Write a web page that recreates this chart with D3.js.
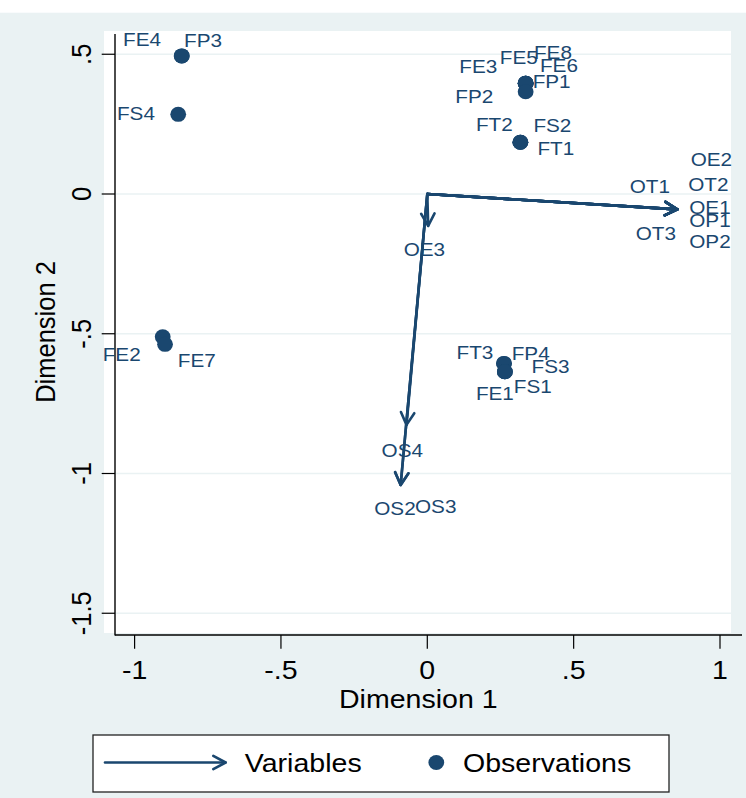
<!DOCTYPE html>
<html>
<head>
<meta charset="utf-8">
<script src="https://cdn.jsdelivr.net/npm/d3@7/dist/d3.min.js"></script>
<style>
  html, body { margin: 0; padding: 0; background: #ffffff; }
  svg { display: block; }
</style>
</head>
<body>
<script>
// ---------------- DATA ----------------
const obsNames = ['FE4','FP3','FS4','FE2','FE7','FE3','FE5','FE8','FE6','FP1','FP2','FT2','FS2','FT1','FT3','FP4','FS3','FE1','FS1'];
const obsDim1  = [-0.839,-0.839,-0.851,-0.904,-0.896, 0.336, 0.336, 0.336, 0.336, 0.336, 0.336, 0.318, 0.318, 0.318, 0.262, 0.262, 0.265, 0.265, 0.265];
const obsDim2  = [ 0.494, 0.494, 0.285,-0.511,-0.538, 0.396, 0.396, 0.396, 0.396, 0.396, 0.366, 0.185, 0.185, 0.185,-0.606,-0.606,-0.636,-0.636,-0.636];

const varNames = ['OT1','OT2','OE2','OE1','OP1','OT3','OP2','OE3','OS4','OS2','OS3'];
const varDim1  = [ 0.854, 0.854, 0.854, 0.854, 0.854, 0.854, 0.854, 0.003,-0.071,-0.091,-0.091];
const varDim2  = [-0.055,-0.055,-0.055,-0.055,-0.055,-0.055,-0.055,-0.114,-0.826,-1.041,-1.041];

const xTicks = [-1, -0.5, 0, 0.5, 1];
const xTickLabels = ['-1', '-.5', '0', '.5', '1'];
const yTicks = [0.5, 0, -0.5, -1, -1.5];
const yTickLabels = ['.5', '0', '-.5', '-1', '-1.5'];
const xTitle = 'Dimension 1';
const yTitle = 'Dimension 2';
const legendLabels = ['Variables', 'Observations'];

// ---------------- LAYOUT (label placement relative to its point, px) ----------------
const labelPlace = {
  FE4: ['end', -20.7, -10.3], FP3: ['start', 2.3, -9.3], FS4: ['end', -23.3, 5.7],
  FE2: ['end', -22, 24], FE7: ['start', 12.7, 23],
  FE3: ['end', -28.4, -10], FE5: ['middle', -6.9, -19], FE8: ['start', 8.3, -24],
  FE6: ['start', 14.3, -11], FP1: ['start', 7, 5], FP2: ['end', -32.4, 11],
  FT2: ['end', -7.6, -11.6], FS2: ['start', 13, -10.6], FT1: ['start', 17, 12.7],
  FT3: ['end', -10.7, -4], FP4: ['start', 7.7, -3.3], FS3: ['start', 26.7, 1.6],
  FE1: ['end', 9, 28.3], FS1: ['start', 9, 21],
  OE2: ['start', 13.4, -43.5], OT1: ['end', -7.3, -16.8], OT2: ['start', 11, -18.8],
  OE1: ['start', 12, 4.5], OP1: ['start', 12, 17.8], OT3: ['end', -1.3, 30.5],
  OP2: ['start', 12, 38.8], OE3: ['middle', -3.8, 30], OS4: ['middle', -4.2, 32.3],
  OS2: ['middle', -5.7, 30], OS3: ['start', 14.3, 27.7]
};

// ---------------- STYLE ----------------
const W = 746, H = 798;
const SX = 1.12;                 // horizontal stretch of the reference glyphs
const BG = '#eaf2f3';
const NAVY = '#1a476f';
const FONT = '"Liberation Sans", Arial, Helvetica, sans-serif';

const svg = d3.select('body').append('svg').attr('width', W).attr('height', H);

function txt(g, x, y, str, size, anchor, color, rotate) {
  return g.append('text')
    .attr('transform', `translate(${x},${y}) scale(${SX},1)` + (rotate ? ' rotate(-90)' : ''))
    .attr('text-anchor', anchor)
    .attr('font-family', FONT)
    .attr('font-size', size)
    .attr('fill', color)
    .text(str);
}

// backgrounds
svg.append('rect').attr('x', 0).attr('y', 0).attr('width', W).attr('height', H).attr('fill', BG);
svg.append('rect').attr('x', 0).attr('y', 0).attr('width', W).attr('height', 12.7).attr('fill', '#ffffff');
svg.append('rect').attr('x', 104).attr('y', 31).attr('width', 627).attr('height', 602).attr('fill', '#ffffff');

// scales
const x = d3.scaleLinear().domain([-1, 1]).range([134.6, 720.0]);
const y = d3.scaleLinear().domain([-1.5, 0.5]).range([613.25, 54.25]);

// gridlines
svg.append('g').selectAll('line').data(yTicks).join('line')
  .attr('x1', 116).attr('x2', 731)
  .attr('y1', d => y(d)).attr('y2', d => y(d))
  .attr('stroke', BG).attr('stroke-width', 1.6);

// axes lines
const axisG = svg.append('g');
axisG.append('line').attr('x1', 115).attr('x2', 115).attr('y1', 34).attr('y2', 635.5)
  .attr('stroke', '#000').attr('stroke-width', 1.4);
axisG.append('line').attr('x1', 115).attr('x2', 742).attr('y1', 635).attr('y2', 635)
  .attr('stroke', '#000').attr('stroke-width', 1.4);

// x ticks + labels
xTicks.forEach((t, i) => {
  axisG.append('line').attr('x1', x(t)).attr('x2', x(t)).attr('y1', 635).attr('y2', 648.7)
    .attr('stroke', '#000').attr('stroke-width', 1.2);
  txt(axisG, x(t), 679.3, xTickLabels[i], 25.5, 'middle', '#000', false);
});
// y ticks + labels
yTicks.forEach((t, i) => {
  axisG.append('line').attr('x1', 101.7).attr('x2', 115).attr('y1', y(t)).attr('y2', y(t))
    .attr('stroke', '#000').attr('stroke-width', 1.2);
  txt(axisG, 90.7, y(t), yTickLabels[i], 25.5, 'middle', '#000', true);
});
txt(axisG, 418.3, 707.7, xTitle, 25.5, 'middle', '#000', false);
txt(axisG, 55, 332, yTitle, 25.5, 'middle', '#000', true);

// arrow helper
function arrow(g, x0, y0, x1, y1) {
  g.append('line').attr('x1', x0).attr('y1', y0).attr('x2', x1).attr('y2', y1)
    .attr('stroke', NAVY).attr('stroke-width', 2.6).attr('stroke-linecap', 'round');
  const ang = Math.atan2(y1 - y0, x1 - x0);
  const L = 14, a = 0.5;
  const p1 = [x1 - L * Math.cos(ang - a), y1 - L * Math.sin(ang - a)];
  const p2 = [x1 - L * Math.cos(ang + a), y1 - L * Math.sin(ang + a)];
  g.append('path').attr('d', `M${p1[0]},${p1[1]}L${x1},${y1}L${p2[0]},${p2[1]}`)
    .attr('fill', 'none').attr('stroke', NAVY).attr('stroke-width', 2.6)
    .attr('stroke-linecap', 'round').attr('stroke-linejoin', 'round');
}

// variables (arrows)
const varG = svg.append('g');
varNames.forEach((n, i) => arrow(varG, x(0), y(0), x(varDim1[i]), y(varDim2[i])));
varNames.forEach((n, i) => {
  const p = labelPlace[n];
  txt(varG, x(varDim1[i]) + p[1], y(varDim2[i]) + p[2], n, 18.5, p[0], NAVY, false);
});

// observations (dots)
const obsG = svg.append('g');
obsG.selectAll('ellipse').data(obsNames).join('ellipse')
  .attr('cx', (d, i) => x(obsDim1[i])).attr('cy', (d, i) => y(obsDim2[i]))
  .attr('rx', 7.9).attr('ry', 7.5).attr('fill', NAVY);
obsNames.forEach((n, i) => {
  const p = labelPlace[n];
  txt(obsG, x(obsDim1[i]) + p[1], y(obsDim2[i]) + p[2], n, 18.5, p[0], NAVY, false);
});

// legend
const lg = svg.append('g');
lg.append('rect').attr('x', 93).attr('y', 735).attr('width', 576).attr('height', 57)
  .attr('fill', '#ffffff').attr('stroke', '#222').attr('stroke-width', 1.3);
arrow(lg, 105, 762.5, 225.6, 762.5);
txt(lg, 244.8, 771.5, legendLabels[0], 25.5, 'start', '#000', false);
lg.append('ellipse').attr('cx', 436.3).attr('cy', 762.5).attr('rx', 7.9).attr('ry', 7.5).attr('fill', NAVY);
txt(lg, 463, 771.5, legendLabels[1], 25.5, 'start', '#000', false);
</script>
</body>
</html>
